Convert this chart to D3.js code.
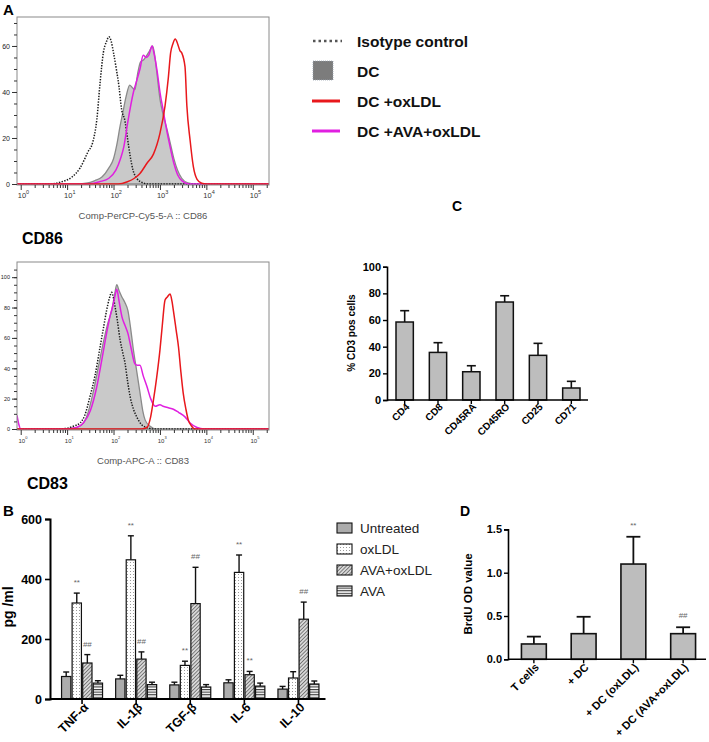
<!DOCTYPE html>
<html>
<head>
<meta charset="utf-8">
<script src="https://cdn.jsdelivr.net/npm/d3@7"></script>
<style>
  body { margin: 0; background: #fff; }
  svg { display: block; font-family: "Liberation Sans", Arial, Helvetica, sans-serif; }
</style>
</head>
<body>
<svg id="fig" width="709" height="742"></svg>
<script>
// ---- panel A: flow histograms, [log10 intensity, count]
const cd86Iso = [[-0.08,0],[0.6,0],[0.85,0.8],[1.1,3],[1.28,7],[1.45,14],[1.55,18],[1.64,28],[1.71,44],[1.78,57],[1.85,62],[1.9,64],[1.95,62],[2.0,57],[2.06,50],[2.12,42],[2.17,33],[2.25,27],[2.3,20],[2.36,12],[2.42,6],[2.5,2.5],[2.6,0.8],[2.75,0],[5.35,0]];
const cd86DC = [[-0.08,0],[1.2,0],[1.45,0.5],[1.6,1.5],[1.75,3],[1.9,7],[2.0,11],[2.07,17],[2.14,25],[2.2,31],[2.27,38],[2.35,43],[2.4,42],[2.46,41],[2.52,48],[2.58,53],[2.65,54],[2.72,56],[2.78,58],[2.84,60],[2.88,57],[2.93,49],[3.0,37],[3.07,30],[3.15,24],[3.22,18],[3.3,11],[3.38,6],[3.47,2.5],[3.6,0.5],[3.75,0],[5.35,0]];
const cd86Ox = [[-0.08,0],[2.1,0],[2.3,1],[2.45,2.5],[2.57,4.6],[2.72,9],[2.86,13],[3.0,22],[3.11,34],[3.18,46],[3.23,57],[3.28,61],[3.33,63],[3.38,61],[3.43,58],[3.47,57],[3.54,51],[3.58,34],[3.65,19],[3.72,7.5],[3.8,2],[3.9,0.3],[4.0,0],[5.35,0]];
const cd86AvaOx = [[-0.08,0],[1.45,0],[1.7,1],[1.9,2.5],[2.05,6],[2.15,11],[2.22,16],[2.3,26],[2.36,33],[2.43,40],[2.5,45],[2.57,50],[2.64,56],[2.7,55],[2.76,56],[2.83,60],[2.88,56],[2.94,49],[3.0,40],[3.07,32],[3.14,24],[3.21,17],[3.3,9],[3.38,4],[3.5,1],[3.62,0],[5.35,0]];

const cd83Iso = [[-0.08,0],[0.8,0],[1.0,0.5],[1.15,2],[1.28,4],[1.38,9],[1.49,21],[1.6,35],[1.71,54],[1.78,66],[1.85,78],[1.91,86],[1.96,90],[2.0,86],[2.03,81],[2.08,72],[2.14,59],[2.2,50],[2.25,43],[2.3,32],[2.36,21],[2.43,13],[2.5,8],[2.6,3],[2.72,1],[2.85,0],[5.35,0]];
const cd83DC = [[-0.08,0],[0.9,0],[1.1,0.5],[1.28,2],[1.42,8],[1.56,24],[1.68,42],[1.78,57],[1.88,70],[1.96,78],[2.02,88],[2.07,95],[2.12,91],[2.18,87],[2.25,83],[2.31,78],[2.37,66],[2.42,54],[2.5,38],[2.57,24],[2.63,12],[2.68,6],[2.78,2],[2.93,0],[5.35,0]];
const cd83Ox = [[-0.08,0],[2.6,0],[2.72,1],[2.8,8],[2.86,19],[2.93,34],[3.0,52],[3.05,68],[3.11,85],[3.16,87],[3.22,89],[3.26,84],[3.29,78],[3.35,65],[3.4,54],[3.45,38],[3.5,24],[3.56,13],[3.61,6],[3.68,2],[3.75,0],[5.35,0]];
const cd83AvaOx = [[-0.08,9],[-0.04,3],[0.0,0],[1.0,0],[1.2,1],[1.35,4],[1.5,12],[1.64,28],[1.75,46],[1.85,63],[1.93,75],[2.0,83],[2.04,89],[2.07,92],[2.12,84],[2.18,74],[2.25,68],[2.31,63],[2.38,53],[2.46,43],[2.51,42],[2.57,42],[2.64,35],[2.72,28],[2.8,20],[2.9,15],[3.0,16],[3.07,15],[3.18,14],[3.29,13],[3.4,11],[3.54,8],[3.65,4],[3.8,1],[3.95,0],[5.35,0]];

const decades = [0, 1, 2, 3, 4, 5];
const legendA = ['Isotype control', 'DC', 'DC +oxLDL', 'DC +AVA+oxLDL'];

// ---- panel B: cytokines (pg/ml), mean and error
const cytokines = ['TNF-α', 'IL-1β', 'TGF-β', 'IL-6', 'IL-10'];
const treatments = ['Untreated', 'oxLDL', 'AVA+oxLDL', 'AVA'];
const untreated = [75, 67, 47, 54, 33];
const untreatedErr = [15, 12, 9, 10, 9];
const oxLDL = [320, 464, 112, 422, 70];
const oxLDLErr = [33, 80, 14, 58, 21];
const avaOxLDL = [120, 133, 318, 81, 266];
const avaOxLDLErr = [28, 24, 121, 11, 57];
const ava = [53, 48, 40, 43, 50];
const avaErr = [8, 8, 8, 10, 10];
const oxLDLMarks = ['**', '**', '**', '**', ''];
const avaOxLDLMarks = ['##', '##', '##', '**', '##'];

// ---- panel C: % CD3 positive cells
const markers = ['CD4', 'CD8', 'CD45RA', 'CD45RO', 'CD25', 'CD71'];
const pctCD3 = [58.5, 35.7, 21.2, 73.5, 33.5, 9];
const pctErr = [8.5, 7.3, 4.5, 4.7, 9, 5];

// ---- panel D: BrdU proliferation
const coculture = ['T cells', '+ DC', '+ DC (oxLDL)', '+ DC (AVA+oxLDL)'];
const brdu = [0.177, 0.296, 1.1, 0.296];
const brduErr = [0.085, 0.195, 0.315, 0.074];
const brduMarks = ['', '', '**', '##'];

const fig = d3.select('#fig');

// patterns for panel B
const defs = fig.append('defs');
const pDots = defs.append('pattern').attr('id', 'pDots').attr('patternUnits', 'userSpaceOnUse')
  .attr('width', 3).attr('height', 3);
pDots.append('rect').attr('width', 3).attr('height', 3).attr('fill', '#fff');
pDots.append('rect').attr('x', 1).attr('y', 1).attr('width', 1).attr('height', 1).attr('fill', '#9a9a9a');
const pDiag = defs.append('pattern').attr('id', 'pDiag').attr('patternUnits', 'userSpaceOnUse')
  .attr('width', 2.6).attr('height', 2.6).attr('patternTransform', 'rotate(45)');
pDiag.append('rect').attr('width', 2.6).attr('height', 2.6).attr('fill', '#d8d8d8');
pDiag.append('line').attr('x1', 0).attr('y1', 0).attr('x2', 0).attr('y2', 2.6)
  .attr('stroke', '#333').attr('stroke-width', 1.1);
const pHoriz = defs.append('pattern').attr('id', 'pHoriz').attr('patternUnits', 'userSpaceOnUse')
  .attr('width', 4).attr('height', 2.6);
pHoriz.append('rect').attr('width', 4).attr('height', 2.6).attr('fill', '#fff');
pHoriz.append('line').attr('x1', 0).attr('y1', 0.6).attr('x2', 4).attr('y2', 0.6)
  .attr('stroke', '#222').attr('stroke-width', 1);

const treatFill = ['#acacac', 'url(#pDots)', 'url(#pDiag)', 'url(#pHoriz)'];

// ================= Panel A =================
function histPanel(top, bottom, ymax, iso, dc, ox, avaOx, title, clipId, fs) {
  const g = fig.append('g');
  const x = d3.scaleLog().domain([10 ** -0.08, 10 ** 5.35]).range([17, 269]);
  const y = d3.scaleLinear().domain([0, ymax]).range([bottom - 1, top]);
  const px = d => x(10 ** d[0]);

  defs.append('clipPath').attr('id', clipId).append('rect')
    .attr('x', 17).attr('y', top).attr('width', 252).attr('height', bottom - top);
  const plot = g.append('g').attr('clip-path', `url(#${clipId})`);

  const area = d3.area().x(px).y0(y(0)).y1(d => y(d[1])).curve(d3.curveMonotoneX);
  const line = d3.line().x(px).y(d => y(d[1])).curve(d3.curveMonotoneX);

  plot.append('path').datum(dc).attr('d', area)
    .attr('fill', '#c9c9c9').attr('stroke', '#8a8a8a').attr('stroke-width', 1.3);
  plot.append('path').datum(iso).attr('d', line)
    .attr('fill', 'none').attr('stroke', '#1a1a1a').attr('stroke-width', 1.5)
    .attr('stroke-dasharray', '1.4,1.4');
  plot.append('path').datum(avaOx).attr('d', line)
    .attr('fill', 'none').attr('stroke', '#e01fe0').attr('stroke-width', 1.5);
  plot.append('path').datum(ox).attr('d', line)
    .attr('fill', 'none').attr('stroke', '#e8181c').attr('stroke-width', 1.5);

  // frame
  g.append('rect').attr('x', 17).attr('y', top).attr('width', 252).attr('height', bottom - top)
    .attr('fill', 'none').attr('stroke', '#8a8a8a').attr('stroke-width', 1);

  // y axis: minor every 5, labels every 20
  const yMinor = g.append('g').attr('transform', 'translate(17,0)')
    .call(d3.axisLeft(y).tickValues(d3.range(0, ymax, 5)).tickSize(3).tickFormat(''));
  const yMajor = g.append('g').attr('transform', 'translate(17,0)')
    .call(d3.axisLeft(y).tickValues(d3.range(0, ymax, 20)).tickSize(5).tickPadding(2));
  yMajor.attr('font-size', fs).attr('font-family', null);
  [yMinor, yMajor].forEach(a => {
    a.select('.domain').remove();
    a.selectAll('line').attr('stroke', '#333');
  });
  yMajor.selectAll('text').attr('fill', '#222');

  // x axis: log decades with minor ticks
  const minor = [];
  decades.forEach(e => d3.range(2, 10).forEach(k => {
    const v = k * 10 ** e;
    if (v < x.domain()[1]) minor.push(v);
  }));
  const xMinor = g.append('g').attr('transform', `translate(0,${bottom})`)
    .call(d3.axisBottom(x).tickValues(minor).tickSize(3).tickFormat(''));
  const xMajor = g.append('g').attr('transform', `translate(0,${bottom})`)
    .call(d3.axisBottom(x).tickValues(decades.map(e => 10 ** e)).tickSize(5).tickFormat(''));
  [xMinor, xMajor].forEach(a => {
    a.select('.domain').remove();
    a.selectAll('line').attr('stroke', '#333');
  });
  xMajor.selectAll('.tick').each(function (d) {
    const t = d3.select(this).append('text')
      .attr('x', -fs * 0.5).attr('y', 13).attr('fill', '#333')
      .attr('font-size', fs + 0.5).attr('text-anchor', 'start');
    t.append('tspan').text('10');
    t.append('tspan').attr('dy', -4).attr('font-size', fs - 1.5).text(Math.round(Math.log10(d)));
  });

  g.append('text').attr('x', 143).attr('y', bottom + 34).attr('text-anchor', 'middle')
    .attr('font-size', 9.5).attr('fill', '#555').text(title);
}

histPanel(17, 185, 72.6, cd86Iso, cd86DC, cd86Ox, cd86AvaOx, 'Comp-PerCP-Cy5-5-A :: CD86', 'clipA1', 7);
histPanel(262, 430, 110, cd83Iso, cd83DC, cd83Ox, cd83AvaOx, 'Comp-APC-A :: CD83', 'clipA2', 5.5);

fig.append('text').attr('x', 3).attr('y', 15).attr('font-size', 15).attr('font-weight', 'bold').text('A');
fig.append('text').attr('x', 22).attr('y', 244).attr('font-size', 16).attr('font-weight', 'bold').text('CD86');
fig.append('text').attr('x', 27).attr('y', 489).attr('font-size', 16).attr('font-weight', 'bold').text('CD83');

// legend for A
const legA = fig.append('g').attr('transform', 'translate(312,0)');
const legY = d3.scalePoint().domain(legendA).range([41, 131]);
legendA.forEach((name, i) => {
  const yy = legY(name);
  if (i === 0) {
    legA.append('line').attr('x1', 1).attr('x2', 30).attr('y1', yy).attr('y2', yy)
      .attr('stroke', '#555').attr('stroke-width', 2.5).attr('stroke-dasharray', '2.5,3');
  } else if (i === 1) {
    legA.append('rect').attr('x', 1).attr('y', yy - 10).attr('width', 20).attr('height', 19)
      .attr('fill', '#7c7c7c').attr('stroke', '#9aa3b0').attr('stroke-width', 0.8)
      .attr('stroke-dasharray', '1,1');
  } else {
    legA.append('line').attr('x1', 0).attr('x2', 28).attr('y1', yy).attr('y2', yy)
      .attr('stroke', i === 2 ? '#e8181c' : '#e01fe0').attr('stroke-width', 3);
  }
  legA.append('text').attr('x', 45).attr('y', yy + 5.5).attr('font-size', 15.5)
    .attr('font-weight', 'bold').attr('fill', '#111').text(name);
});

// ================= Panel B =================
const bG = fig.append('g');
const bx = d3.scaleBand().domain(cytokines).range([55, 325.5]);
const bSub = d3.scaleBand().domain(treatments).range([0, 41]).paddingInner(0.12);
const by = d3.scaleLinear().domain([0, 600]).range([699, 519]);
const bVals = [untreated, oxLDL, avaOxLDL, ava];
const bErrs = [untreatedErr, oxLDLErr, avaOxLDLErr, avaErr];
const bMarks = [[], oxLDLMarks, avaOxLDLMarks, []];

const bRows = [];
cytokines.forEach((c, i) => treatments.forEach((t, j) => {
  bRows.push({ c, t, j, v: bVals[j][i], e: bErrs[j][i], m: bMarks[j][i] || '' });
}));
const bBar = d => bx(d.c) + bx.bandwidth() / 2 - 20.5 + bSub(d.t);
const bMid = d => bBar(d) + bSub.bandwidth() / 2;

bG.selectAll('line.err').data(bRows).join('line').attr('class', 'err')
  .attr('x1', bMid).attr('x2', bMid)
  .attr('y1', d => by(d.v)).attr('y2', d => by(d.v + d.e))
  .attr('stroke', '#111').attr('stroke-width', 1.4);
bG.selectAll('line.cap').data(bRows).join('line').attr('class', 'cap')
  .attr('x1', d => bMid(d) - 3).attr('x2', d => bMid(d) + 3)
  .attr('y1', d => by(d.v + d.e)).attr('y2', d => by(d.v + d.e))
  .attr('stroke', '#111').attr('stroke-width', 1.4);
bG.selectAll('rect.bar').data(bRows).join('rect').attr('class', 'bar')
  .attr('x', bBar).attr('width', bSub.bandwidth())
  .attr('y', d => by(d.v)).attr('height', d => by(0) - by(d.v))
  .attr('fill', d => treatFill[d.j]).attr('stroke', '#111').attr('stroke-width', 1.2);
bG.selectAll('text.mark').data(bRows.filter(d => d.m)).join('text').attr('class', 'mark')
  .attr('x', bMid).attr('y', d => by(d.v + d.e) - 8)
  .attr('text-anchor', 'middle').attr('font-size', 8).attr('fill', '#666').text(d => d.m);

const bYAxis = bG.append('g').attr('transform', 'translate(50,0)')
  .call(d3.axisLeft(by).tickValues([0, 200, 400, 600]).tickSize(5).tickPadding(3));
bYAxis.attr('font-size', 12.5).attr('font-family', null).attr('font-weight', 'bold');
bYAxis.select('.domain').attr('stroke-width', 2);
bYAxis.selectAll('line').attr('stroke-width', 1.6);
const bXAxis = bG.append('g').attr('transform', 'translate(0,699)')
  .call(d3.axisBottom(bx).tickSize(5).tickSizeOuter(0).tickPadding(4));
bXAxis.select('.domain').remove();
bXAxis.selectAll('line').attr('stroke-width', 1.6);
bG.append('line').attr('x1', 50).attr('x2', bx.range()[1]).attr('y1', 699).attr('y2', 699)
  .attr('stroke', '#000').attr('stroke-width', 2);
bXAxis.attr('font-size', 12.5).attr('font-family', null).attr('font-weight', 'bold');
bXAxis.selectAll('text').attr('text-anchor', 'end')
  .attr('transform', 'translate(4,6) rotate(-45)').attr('dy', '0.35em').attr('y', 0).attr('x', 0);

bG.append('text').attr('transform', 'translate(13,607) rotate(-90)').attr('text-anchor', 'middle')
  .attr('font-size', 14).attr('font-weight', 'bold').text('pg /ml');
fig.append('text').attr('x', 3).attr('y', 516).attr('font-size', 15).attr('font-weight', 'bold').text('B');

// legend B
const legB = fig.append('g');
const legBY = d3.scalePoint().domain(treatments).range([528, 591]);
treatments.forEach((t, j) => {
  legB.append('rect').attr('x', 337).attr('y', legBY(t) - 5).attr('width', 15).attr('height', 10)
    .attr('fill', treatFill[j]).attr('stroke', '#111').attr('stroke-width', 1.1);
  legB.append('text').attr('x', 360).attr('y', legBY(t) + 5).attr('font-size', 13.5)
    .attr('fill', '#222').text(t);
});

// ================= Panel C =================
const cG = fig.append('g');
const cx = d3.scaleBand().domain(markers).range([388, 588]).paddingInner(0.48).paddingOuter(0.24);
const cy = d3.scaleLinear().domain([0, 100]).range([400, 266.7]);
const cRows = markers.map((m, i) => ({ m, v: pctCD3[i], e: pctErr[i] }));
const cMid = d => cx(d.m) + cx.bandwidth() / 2;
cG.selectAll('line.err').data(cRows).join('line').attr('class', 'err')
  .attr('x1', cMid).attr('x2', cMid).attr('y1', d => cy(d.v)).attr('y2', d => cy(d.v + d.e))
  .attr('stroke', '#111').attr('stroke-width', 1.6);
cG.selectAll('line.cap').data(cRows).join('line').attr('class', 'cap')
  .attr('x1', d => cMid(d) - 4.5).attr('x2', d => cMid(d) + 4.5)
  .attr('y1', d => cy(d.v + d.e)).attr('y2', d => cy(d.v + d.e))
  .attr('stroke', '#111').attr('stroke-width', 1.6);
cG.selectAll('rect').data(cRows).join('rect')
  .attr('x', d => cx(d.m)).attr('width', cx.bandwidth())
  .attr('y', d => cy(d.v)).attr('height', d => cy(0) - cy(d.v))
  .attr('fill', '#bdbdbd').attr('stroke', '#111').attr('stroke-width', 1.5);

const cYAxis = cG.append('g').attr('transform', 'translate(387,0)')
  .call(d3.axisLeft(cy).tickValues([0, 20, 40, 60, 80, 100]).tickSize(4).tickPadding(2));
cYAxis.attr('font-size', 11).attr('font-family', null).attr('font-weight', 'bold');
cYAxis.select('.domain').attr('stroke-width', 1.6);
cYAxis.selectAll('line').attr('stroke-width', 1.4);
const cXAxis = cG.append('g').attr('transform', 'translate(0,400)')
  .call(d3.axisBottom(cx).tickSize(4).tickSizeOuter(0));
cXAxis.select('.domain').remove();
cXAxis.selectAll('line').attr('stroke-width', 1.4);
cG.append('line').attr('x1', 387).attr('x2', cx.range()[1]).attr('y1', 400).attr('y2', 400)
  .attr('stroke', '#000').attr('stroke-width', 1.6);
cXAxis.attr('font-size', 10).attr('font-family', null).attr('font-weight', 'bold');
cXAxis.selectAll('text').attr('text-anchor', 'end')
  .attr('transform', 'translate(3,5) rotate(-45)').attr('dy', '0.35em').attr('y', 0).attr('x', 0);

cG.append('text').attr('transform', 'translate(355,333) rotate(-90)').attr('text-anchor', 'middle')
  .attr('font-size', 10).attr('font-weight', 'bold').text('% CD3 pos cells');
fig.append('text').attr('x', 452).attr('y', 211).attr('font-size', 14).attr('font-weight', 'bold').text('C');

// ================= Panel D =================
const dG = fig.append('g');
const dx = d3.scaleBand().domain(coculture).range([509, 708]).paddingInner(0.5).paddingOuter(0.25);
const dy = d3.scaleLinear().domain([0, 1.5]).range([659.3, 529.4]);
const dRows = coculture.map((c, i) => ({ c, v: brdu[i], e: brduErr[i], m: brduMarks[i] }));
const dMid = d => dx(d.c) + dx.bandwidth() / 2;
dG.selectAll('line.err').data(dRows).join('line').attr('class', 'err')
  .attr('x1', dMid).attr('x2', dMid).attr('y1', d => dy(d.v)).attr('y2', d => dy(d.v + d.e))
  .attr('stroke', '#111').attr('stroke-width', 1.8);
dG.selectAll('line.cap').data(dRows).join('line').attr('class', 'cap')
  .attr('x1', d => dMid(d) - 7).attr('x2', d => dMid(d) + 7)
  .attr('y1', d => dy(d.v + d.e)).attr('y2', d => dy(d.v + d.e))
  .attr('stroke', '#111').attr('stroke-width', 1.8);
dG.selectAll('rect').data(dRows).join('rect')
  .attr('x', d => dx(d.c)).attr('width', dx.bandwidth())
  .attr('y', d => dy(d.v)).attr('height', d => dy(0) - dy(d.v))
  .attr('fill', '#bdbdbd').attr('stroke', '#111').attr('stroke-width', 1.6);
dG.selectAll('text.mark').data(dRows.filter(d => d.m)).join('text').attr('class', 'mark')
  .attr('x', dMid).attr('y', d => dy(d.v + d.e) - 9)
  .attr('text-anchor', 'middle').attr('font-size', 8).attr('fill', '#666').text(d => d.m);

const dYAxis = dG.append('g').attr('transform', 'translate(508,0)')
  .call(d3.axisLeft(dy).tickValues([0, 0.5, 1.0, 1.5]).tickFormat(d3.format('.1f')).tickSize(4).tickPadding(2));
dYAxis.attr('font-size', 11).attr('font-family', null).attr('font-weight', 'bold');
dYAxis.select('.domain').attr('stroke-width', 1.6);
dYAxis.selectAll('line').attr('stroke-width', 1.4);
const dXAxis = dG.append('g').attr('transform', 'translate(0,659.3)')
  .call(d3.axisBottom(dx).tickSize(4).tickSizeOuter(0));
dXAxis.select('.domain').remove();
dXAxis.selectAll('line').attr('stroke-width', 1.4);
dG.append('line').attr('x1', 508).attr('x2', dx.range()[1] - 2).attr('y1', 659.3).attr('y2', 659.3)
  .attr('stroke', '#000').attr('stroke-width', 1.6);
dXAxis.attr('font-size', 11).attr('font-family', null).attr('font-weight', 'bold');
dXAxis.selectAll('text').attr('text-anchor', 'end')
  .attr('transform', 'translate(3,6) rotate(-45)').attr('dy', '0.35em').attr('y', 0).attr('x', 0);

dG.append('text').attr('transform', 'translate(472,594) rotate(-90)').attr('text-anchor', 'middle')
  .attr('font-size', 11.5).attr('font-weight', 'bold').text('BrdU  OD value');
fig.append('text').attr('x', 460).attr('y', 516).attr('font-size', 14).attr('font-weight', 'bold').text('D');
</script>
</body>
</html>
